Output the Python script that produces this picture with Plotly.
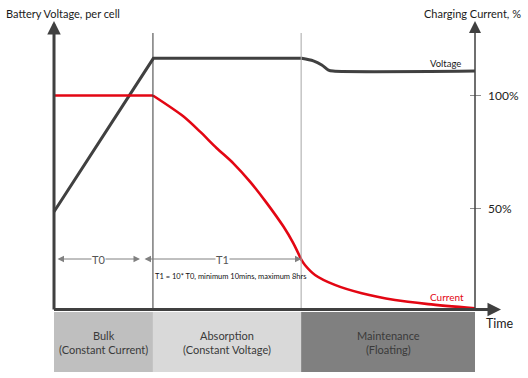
import plotly.graph_objects as go

# ---------------- data ----------------
# time in arbitrary normalized units (0 = start, 100 = end of drawing)
phase_edges = [0, 23.5, 58.7, 100]
phase_names = ["Bulk<br>(Constant Current)", "Absorption<br>(Constant Voltage)", "Maintenance<br>(Floating)"]
phase_colors = ["#bfbfbf", "#d9d9d9", "#808080"]

volt_t = [0, 23.6, 58.8, 61.6, 63.6, 65.2, 66.3, 100]
volt_v = [1.80, 2.40, 2.40, 2.39, 2.374, 2.354, 2.35, 2.35]  # V per cell

curr_t = [0, 23.5, 30.7, 34.7, 38.6, 42.6, 46.6, 50.5, 54.5, 56.8, 58.7,
          59.6, 62, 66.7, 73.1, 81, 88.9, 100]
curr_c = [100, 100, 90.8, 84, 76.8, 70, 61.8, 52.5, 42, 34.8, 27.5,
          25, 20.6, 16.2, 12.5, 9.5, 7.7, 5.8]  # %

curr_ticks = [50, 100]
curr_tick_labels = ["50%", "100%"]

# ---------------- layout constants ----------------
W, H = 528, 378
X_RANGE = [-12.83, 112.59]
V_RANGE = [1.150, 2.628]
C_RANGE = [-25.0, 142.26]

def py(p):  # pixel row -> paper y
    return 1 - p / H

def pc(p):  # pixel row -> current-axis units
    return C_RANGE[1] - p / H * (C_RANGE[1] - C_RANGE[0])

def tx(p):  # pixel col -> time units
    return X_RANGE[0] + p / W * (X_RANGE[1] - X_RANGE[0])

FONT = "Lato"
DARK = "#404040"
RED = "#e30613"

fig = go.Figure()

fig.add_trace(go.Scatter(x=volt_t[:3], y=volt_v[:3], mode="lines", yaxis="y",
                         line=dict(color=DARK, width=3), hoverinfo="skip", showlegend=False))
fig.add_trace(go.Scatter(x=volt_t[2:], y=volt_v[2:], mode="lines", yaxis="y",
                         line=dict(color=DARK, width=3, shape="spline", smoothing=0.8),
                         hoverinfo="skip", showlegend=False))

# current: flat bulk segment, absorption decay, float tail (each smooth, kinks between)
seg_bounds = [(0, 2), (1, 11), (10, len(curr_t))]
for s, e in seg_bounds:
    fig.add_trace(go.Scatter(x=curr_t[s:e], y=curr_c[s:e], mode="lines", yaxis="y2",
                             line=dict(color=RED, width=2.6, shape="spline", smoothing=0.8),
                             hoverinfo="skip", showlegend=False))

shapes = []
annotations = []

# phase bands
for i, name in enumerate(phase_names):
    shapes.append(dict(type="rect", xref="x", yref="paper", x0=phase_edges[i], x1=phase_edges[i + 1],
                       y0=py(372), y1=py(312), fillcolor=phase_colors[i], line=dict(width=0), layer="below"))
    annotations.append(dict(xref="x", yref="paper", x=(phase_edges[i] + phase_edges[i + 1]) / 2, y=py(342),
                            text=name, showarrow=False, font=dict(family=FONT, size=11, color="#3a3a3a"),
                            align="center", xanchor="center", yanchor="middle"))

# phase boundary verticals
shapes.append(dict(type="line", xref="x", yref="paper", x0=phase_edges[1], x1=phase_edges[1],
                   y0=py(310), y1=py(33), line=dict(color="#3a3a3a", width=1)))
shapes.append(dict(type="line", xref="x", yref="paper", x0=phase_edges[2], x1=phase_edges[2],
                   y0=py(310), y1=py(33), line=dict(color="#a6a6a6", width=1)))

# right axis ticks
for v, lab in zip(curr_ticks, curr_tick_labels):
    shapes.append(dict(type="line", xref="x", yref="y2", x0=tx(470), x1=tx(481), y0=v, y1=v,
                       line=dict(color="#8c8c8c", width=1)))
    annotations.append(dict(xref="x", yref="y2", x=tx(486), y=v, text=lab, showarrow=False,
                            xanchor="left", yanchor="middle", font=dict(family=FONT, size=12, color="#222")))

# axis arrows
def arrow(x, y, ax, ay, width, size, color=DARK, both=False):
    d = dict(xref="x", yref="y2", axref="x", ayref="y2", x=x, y=y, ax=ax, ay=ay, text="",
             showarrow=True, arrowhead=2, arrowsize=size, arrowwidth=width, arrowcolor=color, standoff=0)
    if both:
        d.update(arrowside="end+start", startarrowhead=2, startarrowsize=size, startstandoff=0)
    return d

annotations.append(arrow(phase_edges[0], pc(21), phase_edges[0], pc(311), 3, 0.9))
annotations.append(arrow(phase_edges[3], pc(21), phase_edges[3], pc(310), 1.5, 1.6))
annotations.append(arrow(tx(501), pc(309.5), tx(52.5), pc(309.5), 3, 0.9))

# T0 / T1 dimension arrows
for (a, b, lab) in [(tx(56), tx(140), "T0"), (tx(143), tx(301.5), "T1")]:
    annotations.append(arrow(b, pc(259), a, pc(259), 1, 1.3, color="#808080", both=True))
    annotations.append(dict(xref="x", yref="paper", x=(a + b) / 2, y=py(259), text=lab, showarrow=False,
                            bgcolor="white", borderpad=0, xanchor="center", yanchor="middle",
                            font=dict(family=FONT, size=11, color="#555")))

annotations.append(dict(xref="x", yref="paper", x=tx(153), y=py(276), text="T1 = 10* T0, minimum 10mins, maximum 8hrs",
                        showarrow=False, xanchor="left", yanchor="middle",
                        font=dict(family=FONT, size=7.5, color="#111")))

# titles and labels
annotations.append(dict(xref="paper", yref="paper", x=4 / W, y=py(13), text="Battery Voltage, per cell",
                        showarrow=False, xanchor="left", yanchor="middle", font=dict(family=FONT, size=11, color="#1a1a1a")))
annotations.append(dict(xref="paper", yref="paper", x=523 / W, y=py(14), text="Charging Current, %",
                        showarrow=False, xanchor="right", yanchor="middle", font=dict(family=FONT, size=11, color="#1a1a1a")))
annotations.append(dict(xref="x", yref="y", x=tx(445), y=volt_v[-1], yshift=8, text="Voltage",
                        showarrow=False, xanchor="center", yanchor="middle", font=dict(family=FONT, size=9.5, color="#1a1a1a")))
annotations.append(dict(xref="x", yref="y2", x=tx(447), y=curr_c[-3], yshift=3, text="Current",
                        showarrow=False, xanchor="center", yanchor="middle", font=dict(family=FONT, size=10, color=RED)))
annotations.append(dict(xref="paper", yref="paper", x=484 / W, y=py(323), text="Time",
                        showarrow=False, xanchor="left", yanchor="middle", font=dict(family=FONT, size=12.5, color="#1a1a1a")))

fig.update_layout(
    width=W, height=H, margin=dict(l=0, r=0, t=0, b=0, pad=0),
    paper_bgcolor="white", plot_bgcolor="white",
    xaxis=dict(range=X_RANGE, visible=False, fixedrange=True),
    yaxis=dict(range=V_RANGE, visible=False, fixedrange=True),
    yaxis2=dict(range=C_RANGE, visible=False, overlaying="y", fixedrange=True),
    shapes=shapes, annotations=annotations, showlegend=False,
)

fig.write_html("out.html", config={"displayModeBar": False},
               post_script="document.body.style.margin='0';")
